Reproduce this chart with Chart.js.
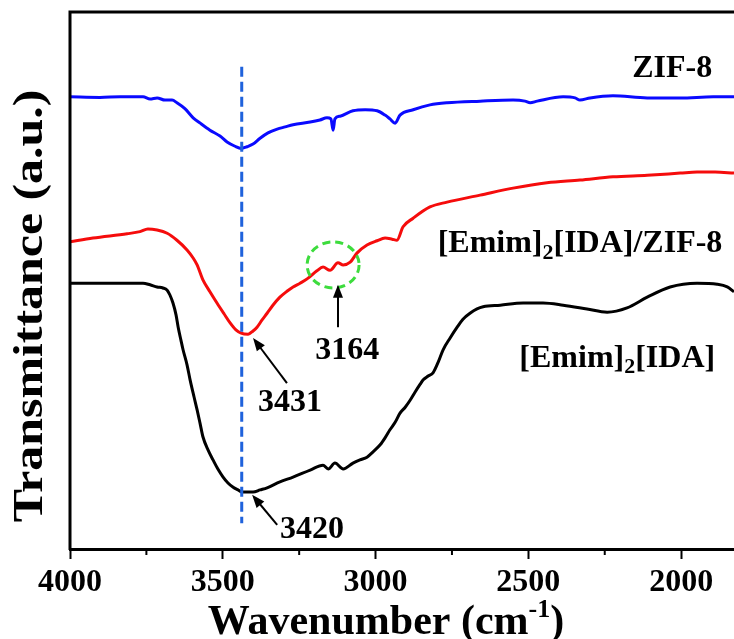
<!DOCTYPE html>
<html>
<head>
<meta charset="utf-8">
<script src="https://cdn.jsdelivr.net/npm/chart.js@4/dist/chart.umd.min.js"></script>
<style>
  html, body { margin: 0; padding: 0; background: #fff; }
  canvas { display: block; }
</style>
</head>
<body>
<canvas id="ftir" width="734" height="639"></canvas>
<script>
/* ============================================================
   FTIR spectra — ZIF-8, [Emim]2[IDA]/ZIF-8, [Emim]2[IDA]
   wavenumber in cm-1, transmittance in arbitrary units
   ============================================================ */

const zifWavenumber = [4000, 3902, 3836, 3761, 3738, 3715, 3689, 3666, 3650, 3624, 3597, 3574, 3542, 3509, 3486, 3460, 3440, 3421, 3401, 3378, 3352, 3322, 3296, 3270, 3214, 3182, 3159, 3146, 3139, 3133, 3116, 3074, 3034, 2995, 2969, 2953, 2936, 2920, 2877, 2822, 2766, 2658, 2550, 2511, 2494, 2471, 2386, 2347, 2331, 2298, 2223, 2111, 2003, 1895, 1827];
const zifTransmittance = [84.2, 84.1, 84.2, 84.2, 83.8, 84.0, 83.6, 83.6, 83.1, 82.0, 80.3, 79.3, 78.0, 76.9, 75.8, 75.0, 74.6, 74.9, 75.4, 76.5, 77.5, 78.2, 78.6, 79.0, 79.5, 79.9, 80.3, 80.1, 78.0, 80.1, 80.6, 81.6, 81.8, 81.6, 80.8, 80.1, 79.3, 80.8, 81.8, 82.7, 83.1, 83.4, 83.6, 83.4, 83.1, 83.4, 84.2, 84.0, 83.6, 84.0, 84.4, 84.0, 84.0, 84.2, 84.2];

const compositeWavenumber = [4000, 3925, 3813, 3771, 3745, 3715, 3682, 3650, 3617, 3597, 3584, 3565, 3542, 3519, 3496, 3476, 3457, 3440, 3417, 3401, 3388, 3372, 3355, 3336, 3313, 3290, 3270, 3247, 3224, 3192, 3172, 3149, 3123, 3106, 3083, 3061, 3028, 2995, 2969, 2946, 2930, 2910, 2877, 2822, 2766, 2658, 2550, 2439, 2331, 2223, 2111, 2003, 1948, 1889, 1827];
const compositeTransmittance = [57.2, 57.9, 58.7, 59.1, 59.6, 59.4, 58.8, 57.5, 55.7, 54.2, 52.9, 50.1, 47.9, 45.8, 43.8, 42.1, 40.8, 40.2, 40.0, 40.6, 41.3, 42.6, 43.9, 45.4, 46.9, 48.0, 48.8, 49.5, 50.3, 51.8, 52.5, 51.9, 53.3, 52.9, 53.4, 55.1, 56.6, 57.4, 57.9, 57.7, 57.5, 60.0, 61.6, 63.7, 64.6, 65.9, 67.2, 68.2, 68.7, 69.3, 69.6, 70.0, 70.2, 70.2, 70.0];

const ilWavenumber = [4000, 3925, 3813, 3761, 3738, 3715, 3696, 3682, 3673, 3663, 3653, 3646, 3637, 3630, 3617, 3607, 3594, 3584, 3574, 3565, 3548, 3532, 3516, 3499, 3483, 3466, 3450, 3437, 3417, 3401, 3378, 3355, 3313, 3270, 3214, 3172, 3155, 3133, 3106, 3074, 3051, 3028, 3008, 2985, 2969, 2953, 2936, 2920, 2903, 2887, 2871, 2854, 2844, 2828, 2812, 2795, 2779, 2756, 2733, 2714, 2691, 2668, 2648, 2592, 2517, 2452, 2386, 2308, 2242, 2177, 2111, 2036, 1948, 1882, 1849, 1827];
const ilTransmittance = [49.5, 49.5, 49.5, 49.5, 49.2, 48.8, 48.6, 48.2, 47.3, 45.8, 43.6, 41.3, 38.9, 37.1, 34.3, 31.5, 28.3, 25.9, 23.3, 20.9, 18.4, 16.6, 14.9, 13.4, 12.3, 11.5, 11.0, 10.6, 10.6, 10.6, 11.0, 11.4, 12.5, 13.4, 14.7, 15.6, 14.9, 16.0, 14.9, 16.0, 16.6, 17.1, 18.1, 19.4, 20.7, 22.2, 23.6, 25.3, 26.4, 27.7, 29.2, 30.7, 31.5, 32.2, 32.8, 34.8, 37.1, 39.3, 41.3, 42.8, 43.9, 44.7, 45.1, 45.4, 45.8, 45.8, 45.4, 44.7, 44.1, 44.9, 46.9, 48.8, 49.5, 49.3, 48.8, 47.9];

// reference line through the O-H band
const guideWavenumber = [3438, 3438];
const guideTransmittance = [89.8, 4.8];

const tickValues = [4000, 3500, 3000, 2500, 2000];
const minorTickValues = [3750, 3250, 2750, 2250];

// curve names, placed in data units
const seriesNames = ['ZIF-8', '[Emim]|2|[IDA]/ZIF-8', '[Emim]|2|[IDA]'];
const seriesNameX = [2029, 2331, 2209];
const seriesNameY = [89.8, 57.2, 35.9];

// peak callouts: label position, arrow tail, arrow head
const peakLabels = ['3431', '3420', '3164'];
const peakLabelX = [3280, 3208, 3093];
const peakLabelY = [27.7, 4.1, 37.4];
const arrowTailX = [3290, 3322, 3123];
const arrowTailY = [30.9, 4.5, 41.3];
const arrowHeadX = [3401, 3404, 3123];
const arrowHeadY = [39.3, 10.1, 49.2];

// dashed green circle around the shoulder
const circleCenter = [3139, 52.9];

/* ---- Helpers ---- */

const SERIF = "'Liberation Serif', 'Times New Roman', serif";

function _points(xs, ys) {
  return xs.map((x, i) => ({ x, y: ys[i] }));
}

/**
 * Draw "a|2|b" style text with the middle part as subscript, centred on (cx, cy).
 */
function _drawSubText(ctx, text, cx, cy, size) {
  const parts = text.split('|');
  const big = `bold ${size}px ${SERIF}`;
  const small = `bold ${Math.round(size * 0.68)}px ${SERIF}`;
  const widths = parts.map((p, i) => {
    ctx.font = i % 2 ? small : big;
    return ctx.measureText(p).width;
  });
  let x = cx - widths.reduce((s, w) => s + w, 0) / 2;
  ctx.textAlign = 'left';
  ctx.textBaseline = 'alphabetic';
  const base = cy + size * 0.33;
  parts.forEach((p, i) => {
    ctx.font = i % 2 ? small : big;
    ctx.fillText(p, x, i % 2 ? base + size * 0.2 : base);
    x += widths[i];
  });
}

function _arrow(ctx, x1, y1, x2, y2) {
  const ang = Math.atan2(y2 - y1, x2 - x1);
  const len = 13, half = 5;
  ctx.beginPath();
  ctx.moveTo(x1, y1);
  ctx.lineTo(x2 - Math.cos(ang) * len * 0.8, y2 - Math.sin(ang) * len * 0.8);
  ctx.stroke();
  ctx.beginPath();
  ctx.moveTo(x2, y2);
  ctx.lineTo(x2 - Math.cos(ang) * len + Math.sin(ang) * half, y2 - Math.sin(ang) * len - Math.cos(ang) * half);
  ctx.lineTo(x2 - Math.cos(ang) * len - Math.sin(ang) * half, y2 - Math.sin(ang) * len + Math.cos(ang) * half);
  ctx.closePath();
  ctx.fill();
}

/* ---- Annotation plugin: frame, minor ticks, callouts, titles ---- */

const annotations = {
  id: 'annotations',
  afterDraw(chart) {
    const { ctx, chartArea: a, scales: { x, y } } = chart;
    ctx.save();
    ctx.strokeStyle = '#000';
    ctx.fillStyle = '#000';

    // top and left frame
    ctx.lineWidth = 3;
    ctx.beginPath();
    ctx.moveTo(a.right + 2, a.top);
    ctx.lineTo(a.left, a.top);
    ctx.lineTo(a.left, a.bottom + 1);
    ctx.stroke();

    // minor ticks
    ctx.lineWidth = 2;
    minorTickValues.forEach(v => {
      const px = x.getPixelForValue(v);
      ctx.beginPath();
      ctx.moveTo(px, a.bottom);
      ctx.lineTo(px, a.bottom + 6);
      ctx.stroke();
    });

    // dashed circle
    ctx.save();
    ctx.strokeStyle = '#3ddc3d';
    ctx.lineWidth = 3;
    ctx.setLineDash([8, 5]);
    ctx.beginPath();
    ctx.ellipse(x.getPixelForValue(circleCenter[0]), y.getPixelForValue(circleCenter[1]), 26, 23, 0, 0, Math.PI * 2);
    ctx.stroke();
    ctx.restore();

    // arrows
    ctx.lineWidth = 2;
    peakLabels.forEach((_, i) => {
      _arrow(ctx,
        x.getPixelForValue(arrowTailX[i]), y.getPixelForValue(arrowTailY[i]),
        x.getPixelForValue(arrowHeadX[i]), y.getPixelForValue(arrowHeadY[i]));
    });

    // peak labels
    peakLabels.forEach((t, i) => {
      _drawSubText(ctx, t, x.getPixelForValue(peakLabelX[i]), y.getPixelForValue(peakLabelY[i]), 32);
    });

    // series names
    seriesNames.forEach((t, i) => {
      _drawSubText(ctx, t, x.getPixelForValue(seriesNameX[i]), y.getPixelForValue(seriesNameY[i]), 32);
    });

    // y title (drawn a little stretched along its length, as in the source figure)
    ctx.save();
    ctx.translate(31, 306);
    ctx.rotate(-Math.PI / 2);
    ctx.scale(1.16, 1);
    ctx.font = `bold 43px ${SERIF}`;
    ctx.textAlign = 'center';
    ctx.textBaseline = 'middle';
    ctx.fillText('Transmittance (a.u.)', 0, 0);
    ctx.restore();

    // x title with superscript
    const main = `bold 42px ${SERIF}`;
    const sup = `bold 26px ${SERIF}`;
    ctx.font = main;
    const w1 = ctx.measureText('Wavenumber (cm').width;
    const w3 = ctx.measureText(')').width;
    ctx.font = sup;
    const w2 = ctx.measureText('-1').width;
    const tx = 386 - (w1 + w2 + w3) / 2;
    const base = 634;
    ctx.textAlign = 'left';
    ctx.textBaseline = 'alphabetic';
    ctx.font = main;
    ctx.fillText('Wavenumber (cm', tx, base);
    ctx.font = sup;
    ctx.fillText('-1', tx + w1, base - 17);
    ctx.font = main;
    ctx.fillText(')', tx + w1 + w2, base);

    ctx.restore();
  },
};

/* ---- Chart ---- */

const lineStyle = (color) => ({
  borderColor: color,
  backgroundColor: color,
  borderWidth: 3,
  pointRadius: 0,
  cubicInterpolationMode: 'monotone',
  fill: false,
});

new Chart(document.getElementById('ftir').getContext('2d'), {
  type: 'line',
  data: {
    datasets: [
      { label: 'guide', data: _points(guideWavenumber, guideTransmittance), ...lineStyle('#1f62dc'), borderDash: [10, 5], cubicInterpolationMode: 'default', tension: 0, order: -1 },
      { label: 'ZIF-8', data: _points(zifWavenumber, zifTransmittance), ...lineStyle('#0a0aff') },
      { label: '[Emim]2[IDA]/ZIF-8', data: _points(compositeWavenumber, compositeTransmittance), ...lineStyle('#f50c0c') },
      { label: '[Emim]2[IDA]', data: _points(ilWavenumber, ilTransmittance), ...lineStyle('#000000') },
    ],
  },
  options: {
    responsive: false,
    animation: false,
    events: [],
    layout: { padding: { left: 70, top: 12, right: 0, bottom: 0 } },
    plugins: {
      legend: { display: false },
      tooltip: { enabled: false },
    },
    scales: {
      x: {
        type: 'linear',
        reverse: true,
        min: 1827,
        max: 4000,
        afterBuildTicks: (s) => { s.ticks = tickValues.map(v => ({ value: v })); },
        afterFit: (s) => { s.height = 90; },
        grid: { drawOnChartArea: false, drawTicks: true, tickLength: 10, tickWidth: 2, tickColor: '#000' },
        border: { display: true, width: 3, color: '#000' },
        ticks: {
          color: '#000',
          padding: 5,
          maxRotation: 0,
          callback: (v) => String(v),
          font: { family: SERIF, size: 32, weight: 'bold' },
        },
      },
      y: {
        display: false,
        min: 0,
        max: 100,
      },
    },
  },
  plugins: [annotations],
});
</script>
</body>
</html>
